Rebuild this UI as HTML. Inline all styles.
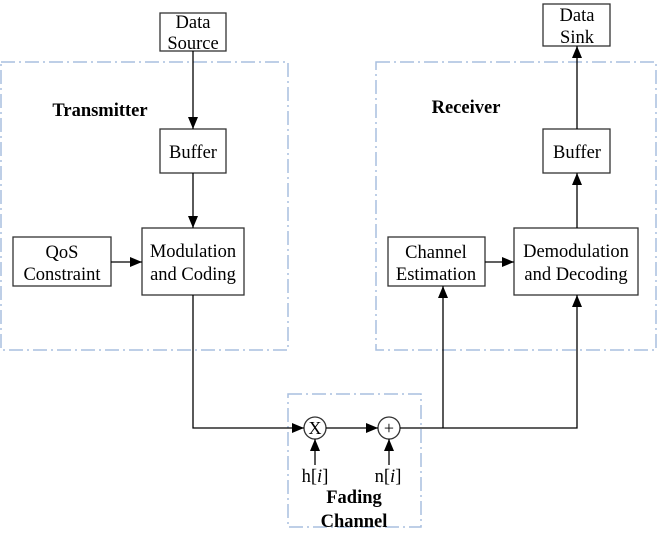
<!DOCTYPE html>
<html><head><style>
body{margin:0;background:#fff}
svg text{font-family:"Liberation Serif",serif;fill:#000}
</style></head><body>
<svg width="657" height="533" viewBox="0 0 657 533" xmlns="http://www.w3.org/2000/svg">
<defs>
<marker id="a" markerWidth="12" markerHeight="10" refX="12" refY="5" orient="auto" markerUnits="userSpaceOnUse">
<path d="M0,0 L12,5 L0,10 Z" fill="#000"/></marker>
</defs>
<g fill="none" stroke="#a9bfdf" stroke-width="1.5" stroke-dasharray="14,4,2,4">
<rect x="1" y="62" width="287" height="288"/>
<rect x="376" y="62" width="280" height="288"/>
<rect x="288" y="394" width="133" height="133"/>
</g>
<g fill="#fff" stroke="#333" stroke-width="1.3">
<rect x="160" y="13" width="66" height="38"/>
<rect x="160" y="129" width="66" height="44"/>
<rect x="142" y="228" width="102" height="67"/>
<rect x="13" y="237" width="98" height="49"/>
<rect x="543" y="4" width="67" height="42"/>
<rect x="543" y="129" width="67" height="44"/>
<rect x="514" y="228" width="124" height="67"/>
<rect x="388" y="237" width="97" height="49"/>
<circle cx="315" cy="428" r="11"/>
<circle cx="389" cy="428" r="11"/>
</g>
<g stroke="#000" stroke-width="1.3" fill="none">
<line x1="193" y1="51" x2="193" y2="129" marker-end="url(#a)"/>
<line x1="193" y1="173" x2="193" y2="228" marker-end="url(#a)"/>
<line x1="111" y1="262" x2="142" y2="262" marker-end="url(#a)"/>
<polyline points="193,295 193,428 304,428" marker-end="url(#a)"/>
<line x1="326" y1="428" x2="378" y2="428" marker-end="url(#a)"/>
<polyline points="400,428 577,428 577,295" marker-end="url(#a)"/>
<line x1="443" y1="428" x2="443" y2="286" marker-end="url(#a)"/>
<line x1="485" y1="262" x2="514" y2="262" marker-end="url(#a)"/>
<line x1="577" y1="228" x2="577" y2="173" marker-end="url(#a)"/>
<line x1="577" y1="129" x2="577" y2="46" marker-end="url(#a)"/>
<line x1="315" y1="465" x2="315" y2="439" marker-end="url(#a)"/>
<line x1="389" y1="465" x2="389" y2="439" marker-end="url(#a)"/>
</g>
<g font-size="18.5" text-anchor="middle">
<text x="193" y="28">Data</text><text x="193" y="49">Source</text>
<text x="193" y="158">Buffer</text>
<text x="193" y="257">Modulation</text><text x="193" y="280">and Coding</text>
<text x="62" y="258">QoS</text><text x="62" y="280">Constraint</text>
<text x="577" y="21">Data</text><text x="577" y="43">Sink</text>
<text x="577" y="158">Buffer</text>
<text x="576" y="257">Demodulation</text><text x="576" y="280">and Decoding</text>
<text x="436" y="258">Channel</text><text x="436" y="280">Estimation</text>
<text x="315" y="434" font-size="18">X</text>
<text x="389" y="434" font-size="18">+</text>
<text x="315" y="482">h[<tspan font-style="italic">i</tspan>]</text>
<text x="388" y="482">n[<tspan font-style="italic">i</tspan>]</text>
<text x="100" y="116" font-weight="bold">Transmitter</text>
<text x="466" y="113" font-weight="bold">Receiver</text>
<text x="354" y="503" font-weight="bold">Fading</text>
<text x="354" y="527" font-weight="bold">Channel</text>
</g>
</svg>
</body></html>
